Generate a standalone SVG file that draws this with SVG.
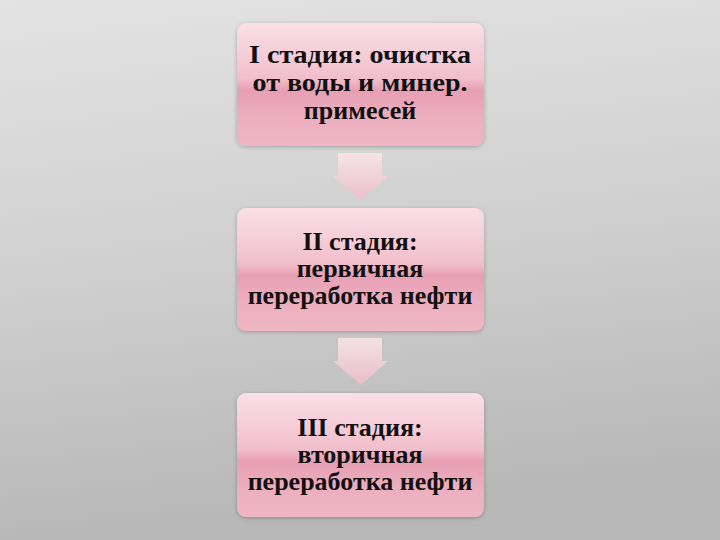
<svg xmlns="http://www.w3.org/2000/svg" width="720" height="540" viewBox="0 0 720 540">
<defs>
<linearGradient id="bg" x1="0" y1="0" x2="0.15" y2="1">
<stop offset="0" stop-color="#e3e3e3"/>
<stop offset="0.5" stop-color="#d0d0d0"/>
<stop offset="1" stop-color="#b7b7b7"/>
</linearGradient>
<linearGradient id="box" x1="0" y1="0" x2="0" y2="1">
<stop offset="0" stop-color="#fae0e7"/>
<stop offset="0.45" stop-color="#f2bfcc"/>
<stop offset="0.55" stop-color="#e79fb3"/>
<stop offset="0.75" stop-color="#ecaebe"/>
<stop offset="1" stop-color="#efb6c4"/>
</linearGradient>
<linearGradient id="arr" x1="0" y1="0" x2="0" y2="1">
<stop offset="0" stop-color="#fbe6ec"/>
<stop offset="1" stop-color="#f0bccb"/>
</linearGradient>
<filter id="sh" x="-10%" y="-10%" width="120%" height="120%">
<feGaussianBlur in="SourceAlpha" stdDeviation="2"/>
<feOffset dx="0" dy="1"/>
<feComponentTransfer><feFuncA type="linear" slope="0.25"/></feComponentTransfer>
<feMerge><feMergeNode/><feMergeNode in="SourceGraphic"/></feMerge>
</filter>
</defs>
<style>
.box{fill:url(#box);filter:url(#sh)}
.t{font-family:"Liberation Serif","Times New Roman",serif;font-weight:bold;font-size:26px;fill:#111;text-anchor:middle}
.arrow{fill:url(#arr);opacity:0.85}
</style>
<rect width="720" height="540" fill="url(#bg)"/>
<g id="connectors">
<path class="arrow" d="M338 153 H382 V176 H388 L361 200 L333 176 H338 Z"/>
<path class="arrow" d="M338 338 H382 V361 H388 L361 385 L333 361 H338 Z"/>
</g>
<g id="node1">
<rect class="box" x="237" y="23" width="247" height="123" rx="9"/>
<text class="t" x="360" y="63" textLength="222" lengthAdjust="spacingAndGlyphs">I стадия: очистка</text>
<text class="t" x="360" y="91" textLength="215" lengthAdjust="spacingAndGlyphs">от воды и минер.</text>
<text class="t" x="360" y="119">примесей</text>
</g>
<g id="node2">
<rect class="box" x="237" y="208" width="247" height="123" rx="9"/>
<text class="t" x="360" y="250">II стадия:</text>
<text class="t" x="360" y="277">первичная</text>
<text class="t" x="360" y="304">переработка нефти</text>
</g>
<g id="node3">
<rect class="box" x="237" y="393" width="247" height="124" rx="9"/>
<text class="t" x="360" y="436">III стадия:</text>
<text class="t" x="360" y="463">вторичная</text>
<text class="t" x="360" y="490">переработка нефти</text>
</g>
</svg>
